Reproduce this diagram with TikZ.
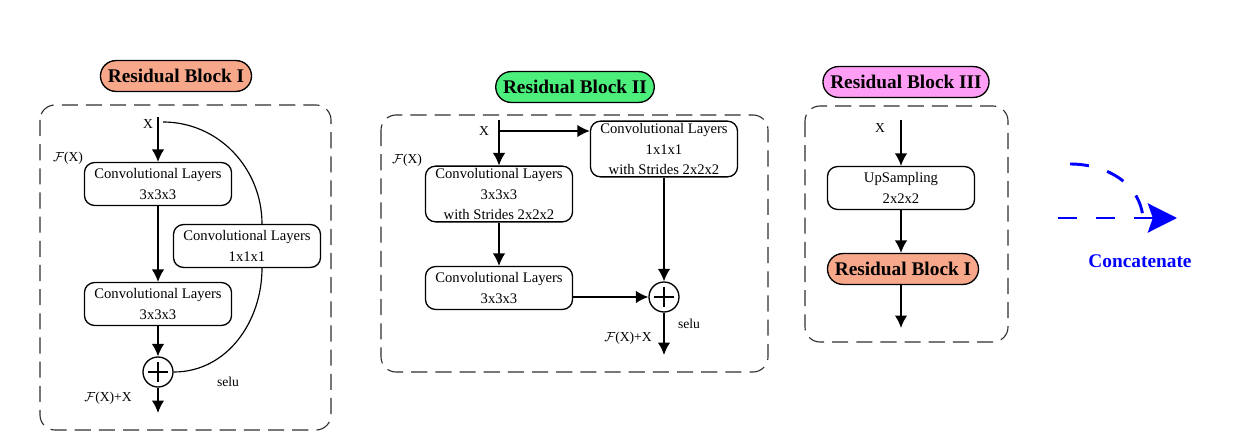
\documentclass[tikz,border=0pt]{standalone}
\usepackage{fontspec}
\setmainfont{Liberation Serif}
\usetikzlibrary{arrows.meta, positioning}
\definecolor{rbone}{HTML}{F7A88A}
\definecolor{rbtwo}{HTML}{4CEF7C}
\definecolor{rbthree}{HTML}{FF9EF5}
\tikzset{title/.style={rectangle,draw,line width=0.9pt,rounded corners=0.37cm,minimum height=0.74cm,inner xsep=5pt,font=\fontsize{13.2}{15}\selectfont\bfseries},box/.style={rectangle,draw,line width=0.9pt,rounded corners=0.24cm,align=center,minimum width=3.53cm,minimum height=1.03cm,inner sep=1.5pt,fill=white,font=\fontsize{10}{14}\selectfont},frame/.style={draw=black!82,line width=0.75pt,dash pattern=on 11pt off 5.5pt,rounded corners=0.36cm},plus/.style={circle,draw,line width=0.9pt,minimum size=0.72cm,inner sep=0pt,path picture={\draw[line width=0.9pt] ([yshift=-3.5pt]path picture bounding box.north) -- ([yshift=3.5pt]path picture bounding box.south) ([xshift=3.5pt]path picture bounding box.west) -- ([xshift=-3.5pt]path picture bounding box.east);}},lbl/.style={font=\fontsize{9.3}{11}\selectfont},line/.style={line width=1pt,-{Latex[length=3mm,width=3mm]}},skip/.style={line width=0.8pt},concat/.style={draw=blue,line width=2pt,dash pattern=on 13pt off 13pt}}

\begin{document}
\begin{tikzpicture}[x=0.024cm,y=-0.024cm]
\useasboundingbox (0,0) rectangle (1240,437);
% Residual Block I
\node[title,fill=rbone] (t1) at (176,76) {Residual Block I};
\draw[frame] (40,105) rectangle (331,430);
\coordinate (x1) at (158,117);
\coordinate (s1) at (163,122);
\node[lbl] (lx1) at (148,124) {X};
\node[box] (c11) at (158,184) {Convolutional Layers\\3x3x3};
\node[box] (c12) at (158,304) {Convolutional Layers\\3x3x3};
\node[box] (c13) at (247,246) {Convolutional Layers\\1x1x1};
\node[plus] (p1) at (158,372) {};
\coordinate (o1) at (158,413);
\node[lbl] (f1) at (68,158) {$\mathcal{F}$(X)};
\node[lbl] (fx1) at (108,398) {$\mathcal{F}$(X)+X};
\node[lbl] (s1l) at (228,382) {selu};
\draw[line] (x1) -- (c11);
\draw[line] (c11) -- (c12);
\draw[line] (c12) -- (p1);
\draw[line] (p1) -- (o1);
\draw[skip] (s1) to[out=0,in=90] ([xshift=0.36cm]c13.north);
\draw[skip] ([xshift=0.36cm]c13.south) to[out=-90,in=0] (p1.east);
% Residual Block II
\node[title,fill=rbtwo] (t2) at (575,87) {Residual Block II};
\draw[frame] (381,115) rectangle (768,372);
\coordinate (x2) at (499,120);
\coordinate (b2) at (499,131);
\node[lbl] (lx2) at (484,131) {X};
\node[box] (c21) at (499,194) {Convolutional Layers\\3x3x3\\with Strides 2x2x2};
\node[box] (c22) at (664,149) {Convolutional Layers\\1x1x1\\with Strides 2x2x2};
\node[box] (c23) at (499,288) {Convolutional Layers\\3x3x3};
\node[plus] (p2) at (664,297) {};
\coordinate (o2) at (664,355);
\node[lbl] (f2) at (407,160) {$\mathcal{F}$(X)};
\node[lbl] (fx2) at (628,338) {$\mathcal{F}$(X)+X};
\node[lbl] (s2l) at (689,324) {selu};
\draw[line] (x2) -- (c21);
\draw[line] (b2) -- (b2 -| c22.west);
\draw[line] (c21) -- (c23);
\draw[line] (c23.east |- p2) -- (p2.west);
\draw[line] (c22) -- (p2);
\draw[line] (p2) -- (o2);
% Residual Block III
\node[title,fill=rbthree] (t3) at (906,82) {Residual Block III};
\draw[frame] (805,106) rectangle (1008,342);
\coordinate (x3) at (901,120);
\node[lbl] (lx3) at (880,128) {X};
\node[box] (u3) at (901,188) {UpSampling\\2x2x2};
\node[title,fill=rbone] (r3) at (903,269) {Residual Block I};
\coordinate (o3) at (901,328);
\draw[line] (x3) -- (u3);
\draw[line] (u3) -- (u3 |- r3.north);
\draw[line] (u3 |- r3.south) -- (o3);
% legend
\coordinate (k1) at (1070,164);
\coordinate (k2) at (1058,218);
\coordinate (k3) at (1177,218);
\coordinate (k4) at (1143,218);
\draw[concat] (k1) to[out=0,in=95] (k4);
\draw[concat,-{Stealth[length=7mm,width=7mm,inset=1.2mm]}] (k2) -- (k3);
\node[text=blue,font=\fontsize{13.2}{15}\selectfont\bfseries] (cc) at (1140,261) {Concatenate};
\end{tikzpicture}
\end{document}
